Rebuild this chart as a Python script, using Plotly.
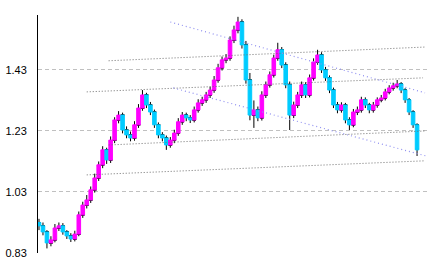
import plotly.graph_objects as go

# --- data ---
opens = [0.930, 0.919, 0.899, 0.863, 0.873, 0.912, 0.919, 0.899, 0.886, 0.876,
         0.892, 0.955, 0.987, 1.004, 1.037, 1.076, 1.119, 1.168, 1.135, 1.200,
         1.266, 1.282, 1.233, 1.217, 1.207, 1.250, 1.305, 1.348, 1.315, 1.292,
         1.250, 1.217, 1.207, 1.184, 1.200, 1.223, 1.260, 1.282, 1.273, 1.266,
         1.299, 1.322, 1.332, 1.348, 1.364, 1.397, 1.437, 1.463, 1.469, 1.528,
         1.561, 1.587, 1.512, 1.397, 1.282, 1.299, 1.273, 1.348, 1.381, 1.414,
         1.469, 1.496, 1.446, 1.381, 1.282, 1.315, 1.348, 1.381, 1.348, 1.404,
         1.456, 1.479, 1.430, 1.404, 1.364, 1.315, 1.299, 1.315, 1.266, 1.250,
         1.292, 1.299, 1.332, 1.315, 1.299, 1.315, 1.332, 1.338, 1.358, 1.371,
         1.378, 1.384, 1.364, 1.332, 1.292, 1.250]
closes = [0.919, 0.899, 0.863, 0.873, 0.912, 0.919, 0.899, 0.886, 0.876, 0.892,
          0.955, 0.987, 1.004, 1.037, 1.076, 1.119, 1.168, 1.135, 1.200, 1.266,
          1.282, 1.233, 1.217, 1.207, 1.250, 1.305, 1.348, 1.315, 1.292, 1.250,
          1.217, 1.207, 1.184, 1.200, 1.223, 1.260, 1.282, 1.273, 1.266, 1.299,
          1.322, 1.332, 1.348, 1.364, 1.397, 1.437, 1.463, 1.469, 1.528, 1.561,
          1.587, 1.512, 1.397, 1.282, 1.299, 1.273, 1.348, 1.381, 1.414, 1.469,
          1.496, 1.446, 1.381, 1.282, 1.315, 1.348, 1.381, 1.348, 1.404, 1.456,
          1.479, 1.430, 1.404, 1.364, 1.315, 1.299, 1.315, 1.266, 1.250, 1.292,
          1.299, 1.332, 1.315, 1.299, 1.315, 1.332, 1.338, 1.358, 1.371, 1.378,
          1.384, 1.364, 1.332, 1.292, 1.250, 1.168]
highs = [0.942, 0.930, 0.905, 0.885, 0.925, 0.930, 0.928, 0.905, 0.895, 0.903,
         0.966, 0.998, 1.020, 1.048, 1.090, 1.130, 1.180, 1.175, 1.212, 1.275,
         1.295, 1.290, 1.245, 1.228, 1.262, 1.318, 1.364, 1.355, 1.325, 1.300,
         1.258, 1.226, 1.215, 1.210, 1.234, 1.272, 1.292, 1.290, 1.282, 1.310,
         1.334, 1.342, 1.358, 1.375, 1.410, 1.450, 1.474, 1.482, 1.540, 1.575,
         1.604, 1.596, 1.525, 1.420, 1.330, 1.310, 1.360, 1.392, 1.425, 1.480,
         1.519, 1.505, 1.455, 1.392, 1.326, 1.358, 1.392, 1.390, 1.415, 1.468,
         1.496, 1.488, 1.440, 1.412, 1.372, 1.325, 1.324, 1.322, 1.275, 1.302,
         1.310, 1.342, 1.340, 1.322, 1.325, 1.340, 1.348, 1.368, 1.380, 1.388,
         1.397, 1.390, 1.370, 1.338, 1.298, 1.255]
lows = [0.905, 0.888, 0.845, 0.852, 0.865, 0.902, 0.890, 0.876, 0.866, 0.868,
        0.885, 0.945, 0.976, 0.994, 1.028, 1.066, 1.108, 1.122, 1.125, 1.190,
        1.255, 1.222, 1.206, 1.196, 1.198, 1.240, 1.296, 1.305, 1.282, 1.240,
        1.206, 1.196, 1.168, 1.175, 1.190, 1.214, 1.250, 1.262, 1.256, 1.258,
        1.290, 1.312, 1.322, 1.338, 1.355, 1.388, 1.428, 1.452, 1.460, 1.518,
        1.550, 1.500, 1.385, 1.265, 1.240, 1.262, 1.264, 1.338, 1.372, 1.405,
        1.460, 1.436, 1.370, 1.233, 1.272, 1.305, 1.338, 1.338, 1.340, 1.395,
        1.447, 1.420, 1.394, 1.354, 1.305, 1.288, 1.290, 1.255, 1.233, 1.242,
        1.282, 1.290, 1.305, 1.288, 1.290, 1.306, 1.324, 1.330, 1.350, 1.362,
        1.370, 1.354, 1.322, 1.282, 1.240, 1.148]
days = list(range(len(closes)))

# trend lines: (x0, y0, x1, y1)
channel_lines = [
    (17.5, 1.460, 97.0, 1.505),
    (12.0, 1.358, 96.5, 1.404),
    (17.5, 1.184, 97.0, 1.230),
    (12.0, 1.086, 96.75, 1.132),
]
down_lines = [
    (33.0, 1.587, 97.0, 1.355),
    (33.75, 1.371, 97.25, 1.148),
]
y_ticks = [0.83, 1.03, 1.23, 1.43]

fig = go.Figure()

for (x0, y0, x1, y1) in channel_lines:
    fig.add_trace(go.Scatter(x=[x0, x1], y=[y0, y1], mode="lines",
                             line=dict(color="#707070", width=1, dash="1px,2px"),
                             hoverinfo="skip", showlegend=False))
for (x0, y0, x1, y1) in down_lines:
    fig.add_trace(go.Scatter(x=[x0, x1], y=[y0, y1], mode="lines",
                             line=dict(color="#9090f0", width=1.2, dash="1px,3px"),
                             hoverinfo="skip", showlegend=False))

# black wicks (degenerate body at the open, covered by the coloured body)
fig.add_trace(go.Candlestick(x=days, open=opens, high=highs, low=lows, close=opens,
                             whiskerwidth=0,
                             increasing=dict(line=dict(color="black", width=1), fillcolor="black"),
                             decreasing=dict(line=dict(color="black", width=1), fillcolor="black"),
                             showlegend=False))

# coloured bodies
body_hi = [max(o, c) for o, c in zip(opens, closes)]
body_lo = [min(o, c) for o, c in zip(opens, closes)]
fig.add_trace(go.Candlestick(x=days, open=opens, high=body_hi, low=body_lo, close=closes,
                             increasing=dict(line=dict(color="#ff00ff", width=1), fillcolor="#ff00ff"),
                             decreasing=dict(line=dict(color="#00ccff", width=1), fillcolor="#00ccff"),
                             showlegend=False))

fig.update_layout(
    width=433, height=266,
    margin=dict(l=36, r=5, t=15, b=13),
    paper_bgcolor="white", plot_bgcolor="white",
    showlegend=False,
    boxgap=0.1, boxgroupgap=0,
    boxmode="overlay",
    font=dict(family="Liberation Sans, Arial, sans-serif", size=11, color="black"),
    xaxis=dict(visible=False, range=[-0.25, 97.75], rangeslider=dict(visible=False)),
    yaxis=dict(range=[0.83, 1.61], tickvals=y_ticks, ticktext=[f"{v:.2f}" for v in y_ticks],
               showgrid=True, gridcolor="#c0c0c0", griddash="4px,3px", gridwidth=1,
               showline=True, linecolor="black", linewidth=1, zeroline=False,
               ticks="", ticklabelstandoff=8),
)

fig.write_html("out.html")
